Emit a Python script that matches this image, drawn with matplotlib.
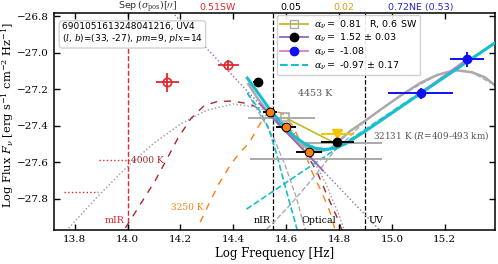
import numpy as np
import matplotlib.pyplot as plt
from matplotlib.lines import Line2D
import matplotlib.transforms as mtransforms

plt.rcParams['font.family'] = 'DejaVu Serif'
plt.rcParams['mathtext.fontset'] = 'dejavuserif'

# ---- photometry (log nu, log F_nu) ----
red_x = [14.151, 14.382]
red_y = [-27.161, -27.068]
red_xerr = [0.043, 0.040]
red_yerr = [0.052, 0.027]

blk_x = [14.494, 14.540, 14.600, 14.687, 14.794]
blk_y = [-27.161, -27.325, -27.407, -27.544, -27.491]
blk_xerr = [0.020, 0.026, 0.038, 0.049, 0.062]

org_x = [14.540, 14.600, 14.687]
org_y = [-27.325, -27.407, -27.544]

gold_x = [14.794]
gold_y = [-27.443]
gold_xerr = [0.062]

blue_x = [15.109, 15.284]
blue_y = [-27.221, -27.037]
blue_xerr = [0.124, 0.064]
blue_yerr = [0.030, 0.041]

gray_x = [14.583, 14.813, 14.713]
gray_y = [-27.355, -27.495, -27.582]
gray_xerr = [0.126, 0.149, 0.249]
sq_x = [14.596]
sq_y = [-27.352]

# mIR limits
lim_x = [[13.891, 14.004], [13.758, 13.887]]
lim_y = [-27.587, -27.762]

# ---- fits ----
olive_x = [14.600, 14.777]
olive_y = [-27.358, -27.489]
purple_fit_x = [14.50, 14.74]
purple_fit_y = [-27.281, -27.646]
purple_ext_x = [14.15, 15.00]
purple_ext_y = [-26.750, -28.041]
pink_x = [15.109, 15.284]
pink_y = [-27.221, -27.037]

# ---- model curves ----
cyan_x = [14.453, 14.494, 14.540, 14.596, 14.634, 14.672, 14.709, 14.747, 14.785,
          14.823, 14.864, 14.906, 15.143, 15.392]
cyan_y = [-27.139, -27.221, -27.314, -27.407, -27.462, -27.500, -27.522, -27.530,
          -27.522, -27.500, -27.462, -27.423, -27.189, -26.945]
cyan_bb_x = [14.453, 14.494, 14.532, 14.562, 14.600, 14.642]
cyan_bb_y = [-27.221, -27.303, -27.407, -27.544, -27.751, -27.970]
cyan_pl_x = [14.45, 15.39]
cyan_pl_y = [-27.856, -26.944]

gray_m_x = [14.457, 14.494, 14.540, 14.596, 14.653, 14.698, 14.736, 14.766, 14.804,
            14.842, 14.898, 14.955, 15.030, 15.106, 15.170, 15.238, 15.302, 15.351, 15.389]
gray_m_y = [-27.172, -27.254, -27.342, -27.429, -27.500, -27.533, -27.538, -27.527, -27.478,
            -27.429, -27.374, -27.314, -27.238, -27.167, -27.123, -27.096, -27.107, -27.134, -27.178]
gray_cool_x = [14.453, 14.509, 14.551, 14.596, 14.638, 14.675]
gray_cool_y = [-27.221, -27.358, -27.462, -27.615, -27.790, -27.981]
gray_hot_x = [14.483, 14.540, 14.615, 14.702, 14.785, 14.823, 14.898, 15.030, 15.170,
              15.238, 15.302, 15.389]
gray_hot_y = [-28.014, -27.948, -27.833, -27.686, -27.533, -27.484, -27.374, -27.238,
              -27.123, -27.096, -27.107, -27.178]

# 4453 K blackbody (dotted)
bb_x = [13.75, 13.8, 13.9, 14.0, 14.1, 14.2, 14.3, 14.4, 14.5, 14.6, 14.65, 14.7,
        14.75, 14.8, 14.85, 14.9]
bb_y = [-28.006, -27.924, -27.767, -27.623, -27.495, -27.391, -27.315, -27.281,
        -27.301, -27.393, -27.472, -27.580, -27.716, -27.888, -28.099, -28.353]

# 4000 K (dark red) and 3250 K (orange)
dr_x = [13.992, 14.03, 14.106, 14.143, 14.19, 14.24, 14.29, 14.34, 14.396, 14.464,
        14.55, 14.62, 14.68, 14.717, 14.758, 14.792, 14.811]
dr_y = [-27.959, -27.872, -27.697, -27.598, -27.47, -27.36, -27.29, -27.267, -27.265,
        -27.281, -27.35, -27.45, -27.56, -27.653, -27.790, -27.899, -27.970]
or_x = [14.275, 14.306, 14.343, 14.389, 14.426, 14.460, 14.491, 14.521, 14.551,
        14.585, 14.623, 14.660, 14.698, 14.736, 14.766, 14.785]
or_y = [-27.927, -27.833, -27.724, -27.615, -27.544, -27.495, -27.413, -27.347,
        -27.320, -27.331, -27.396, -27.505, -27.653, -27.768, -27.872, -27.970]

band_lines = [14.55, 14.9]
sep_x = [14.075, 14.340, 14.619, 14.817, 15.108]
sep_txt = [r'Sep$\,(\sigma_{\rm pos})[\prime\prime]$', '0.51SW', '0.05', '0.02', '0.72NE (0.53)']
sep_col = ['#333333', '#e0282c', 'black', '#d9a00b', '#2222dd']

RED = '#e0282c'
CYAN = '#17becf'
GRAY = '#aaaaaa'
PURPLE = '#9467bd'
DRED = '#a8262c'
ORANGE = '#ff7f0e'

fig = plt.figure(figsize=(4.98, 2.64), dpi=100)
ax = fig.add_axes([54/498, 34/264, 441/498, 216.7/264])

# model curves
ax.plot(bb_x, bb_y, ':', color='#999999', lw=1.0, zorder=1)
ax.plot(dr_x, dr_y, '--', color=DRED, lw=1.0, dashes=(5, 5), zorder=1)
ax.plot(or_x, or_y, '--', color=ORANGE, lw=1.0, dashes=(5, 5), zorder=1)
ax.plot(gray_cool_x, gray_cool_y, '--', color=GRAY, lw=1.0, zorder=1)
ax.plot(gray_hot_x, gray_hot_y, '--', color=GRAY, lw=1.0, zorder=1)
ax.plot(cyan_bb_x, cyan_bb_y, '--', color=CYAN, lw=1.2, zorder=1)
ax.plot(cyan_pl_x, cyan_pl_y, '--', color=CYAN, lw=1.2, zorder=1)
ax.plot(purple_ext_x, purple_ext_y, ':', color=PURPLE, lw=1.0, zorder=1)
ax.plot(gray_m_x, gray_m_y, '-', color=GRAY, lw=1.8, zorder=2)
ax.plot(pink_x, pink_y, '-', color='#e377c2', lw=1.6, zorder=2)
ax.plot(cyan_x, cyan_y, '-', color=CYAN, lw=2.2, zorder=3)
ax.plot(purple_fit_x, purple_fit_y, '-', color=PURPLE, lw=1.3, zorder=3)
ax.plot(olive_x, olive_y, '-', color='#bcbd22', lw=1.2, zorder=3)

# limits
for xs, yv in zip(lim_x, lim_y):
    ax.plot(xs, [yv, yv], ':', color=RED, lw=1.0)

# band separators
ax.axvline(14.0, color=RED, ls='--', lw=1.0, zorder=0)
for b in band_lines:
    ax.axvline(b, color='black', ls='--', lw=0.9, zorder=0)

# photometry
ax.errorbar(gray_x, gray_y, xerr=gray_xerr, fmt='none', ecolor=GRAY, elinewidth=1.4, zorder=2)
ax.plot(sq_x, sq_y, 's', mfc='none', mec=GRAY, ms=6, mew=1.2, zorder=4)
ax.errorbar(red_x, red_y, xerr=red_xerr, yerr=red_yerr, fmt='o', mfc='none', mec=RED,
            ecolor=RED, ms=6, mew=1.2, elinewidth=1.3, zorder=4)
ax.errorbar(blk_x, blk_y, xerr=blk_xerr, fmt='o', color='black', ms=6, elinewidth=1.4, zorder=5)
ax.plot(org_x, org_y, 'o', color=ORANGE, ms=4.5, zorder=6)
ax.errorbar(gold_x, gold_y, xerr=gold_xerr, fmt='v', color='#f5c400', ms=6.5, elinewidth=1.4, zorder=4)
ax.errorbar(blue_x, blue_y, xerr=blue_xerr, yerr=blue_yerr, fmt='o', color='#1010f0', ms=6,
            elinewidth=1.4, zorder=5)

# labels on plot
ax.text(14.0 - 0.01, -27.945, 'mIR', color=RED, fontsize=6.8, ha='right', va='bottom')
ax.text(14.55 - 0.01, -27.945, 'nIR', fontsize=6.8, ha='right', va='bottom')
ax.text(14.723, -27.945, 'Optical', fontsize=6.8, ha='center', va='bottom')
ax.text(14.9 + 0.012, -27.945, 'UV', fontsize=6.8, ha='left', va='bottom')
ax.text(14.012, -27.59, '4000 K', color=DRED, fontsize=6.5, ha='left', va='center')
ax.text(14.165, -27.848, '3250 K', color=ORANGE, fontsize=6.5, ha='left', va='center')
ax.text(14.645, -27.226, '4453 K', color='#555555', fontsize=6.8, ha='left', va='center')
ax.text(14.928, -27.451, '32131 K ($R$=409-493 km)', color='#555555', fontsize=6.4,
        ha='left', va='center')

ax.text(0.018, 0.962, '6901051613248041216, UV4\n($l$, $b$)=(33, -27), $pm$=9, $plx$=14',
        transform=ax.transAxes, family='DejaVu Sans', fontsize=6.5, va='top', ha='left',
        linespacing=1.2, zorder=10,
        bbox=dict(boxstyle='round,pad=0.3', fc='white', ec='#cccccc', alpha=0.9))

trans = mtransforms.blended_transform_factory(ax.transData, ax.transAxes)
for xs, t, c in zip(sep_x, sep_txt, sep_col):
    ax.text(xs, 1.016, t, color=c, fontsize=6.8, family='DejaVu Sans', ha='center',
            va='baseline', transform=trans)

handles = [
    Line2D([], [], color='#bcbd22', marker='s', mfc='none', mec=GRAY, ms=6, lw=1.3),
    Line2D([], [], color=PURPLE, marker='o', mfc='black', mec='black', ms=6, lw=1.3),
    Line2D([], [], color='#e377c2', marker='o', mfc='#1010f0', mec='#1010f0', ms=6, lw=1.3),
    Line2D([], [], color=CYAN, ls='--', lw=1.5),
]
labels = [r'$\alpha_\nu=$ 0.81   R, 0.6 SW', r'$\alpha_\nu=$ 1.52 $\pm$ 0.03',
          r'$\alpha_\nu=$ -1.08', r'$\alpha_\nu=$ -0.97 $\pm$ 0.17']
leg = ax.legend(handles, labels, loc='upper left', bbox_to_anchor=(0.505, 0.993),
                borderaxespad=0, handlelength=3.0, handletextpad=0.6,
                prop={'family': 'DejaVu Sans', 'size': 6.8},
                labelspacing=0.12, framealpha=0.9, borderpad=0.35)
leg.set_zorder(10)

ax.set_xlim(13.722, 15.390)
ax.set_ylim(-27.97, -26.785)
ax.set_xticks([13.8, 14.0, 14.2, 14.4, 14.6, 14.8, 15.0, 15.2])
ax.set_yticks([-27.8, -27.6, -27.4, -27.2, -27.0, -26.8])
ax.tick_params(direction='in', top=True, right=True, length=4, width=1, labelsize=7.5)
for s in ax.spines.values():
    s.set_linewidth(1.1)
ax.set_xlabel('Log Frequency [Hz]', fontsize=8.5, labelpad=2)
ax.set_ylabel(r'Log Flux $F_\nu$ [erg s$^{-1}$ cm$^{-2}$ Hz$^{-1}$]', fontsize=8.2)
ax.yaxis.set_label_coords(-0.087, 0.53)

fig.savefig('out.png', dpi=100)
